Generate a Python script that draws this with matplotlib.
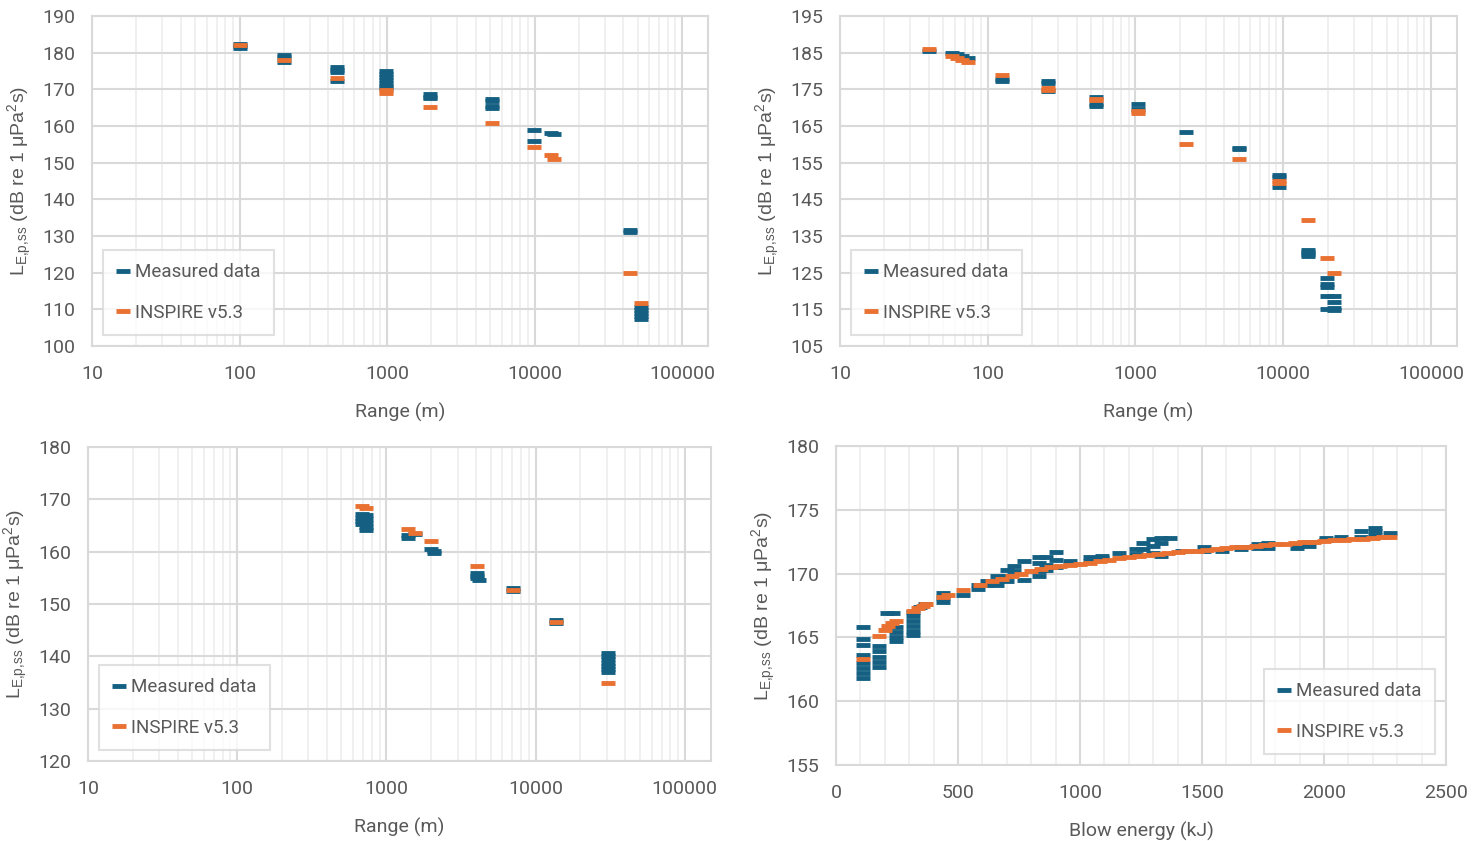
import numpy as np
import matplotlib
matplotlib.use("Agg")
import matplotlib.pyplot as plt
from matplotlib.ticker import LogLocator, FixedLocator, FuncFormatter, MultipleLocator

plt.rcParams['font.family'] = ['Roboto', 'DejaVu Sans']
plt.rcParams['mathtext.default'] = 'regular'

BLUE = '#156082'
ORANGE = '#E97132'
GREY = '#595959'

# --- panel A: level vs range ---
a_meas_r = [100, 100, 100, 200, 200, 200, 460, 460, 460, 460,
            990, 990, 990, 990, 990, 990, 990, 1970, 1970, 1970,
            5150, 5150, 5150, 5150, 9900, 9900, 13000, 13600,
            44700, 44700, 53000, 53000, 53000, 53000, 53000]
a_meas_l = [182.5, 181.8, 181.2, 179.4, 178.9, 177.5, 176.0, 175.4, 174.8, 172.3,
            175.0, 174.2, 173.4, 172.6, 171.8, 171.0, 170.5, 168.7, 168.0, 167.6,
            167.3, 166.7, 165.4, 164.9, 159.0, 155.9, 158.0, 157.8,
            131.7, 131.2, 110.6, 109.8, 109.0, 108.2, 107.5]
a_mod_r = [100, 200, 460, 990, 990, 1970, 5150, 9900, 13000, 13600, 44700, 53000]
a_mod_l = [182.1, 178.1, 173.0, 169.9, 169.1, 165.3, 160.9, 154.4, 152.2, 151.1, 120.0, 111.8]

# --- panel B: level vs range ---
b_meas_r = [40, 57, 62, 67, 73, 124, 124, 257, 257, 257,
            537, 537, 537, 1045, 1045, 2190, 5050, 5050, 9300, 9300, 9300,
            14800, 14800, 14800, 14800, 19800, 19800, 19800, 19800, 19800,
            22000, 22000, 22000, 22000]
b_meas_l = [185.4, 184.9, 184.6, 184.1, 183.6, 177.9, 177.4, 177.2, 176.6, 174.6,
            173.0, 171.0, 170.5, 171.0, 169.6, 163.5, 159.1, 158.7, 151.6, 151.0, 148.3,
            131.3, 130.6, 130.0, 129.6, 123.6, 121.8, 121.0, 118.6, 115.0,
            118.6, 117.0, 115.3, 114.9]
b_mod_r = [40, 57, 62, 67, 73, 124, 257, 257, 537, 537, 1045, 1045,
           2190, 5050, 9300, 9300, 14800, 19800, 22000]
b_mod_l = [186.0, 184.0, 183.6, 183.0, 182.5, 178.8, 175.5, 174.9, 172.5, 172.0, 169.0, 168.5,
           160.0, 155.9, 150.0, 149.4, 139.4, 129.1, 124.9]

# --- panel C: level vs range ---
c_meas_r = [690, 690, 690, 690, 730, 730, 730, 730, 730,
            1400, 1400, 1550, 2000, 2100, 2100,
            4050, 4050, 4050, 4150, 7050, 7050, 13650, 13650,
            30500, 30500, 30500, 30500, 30500, 30500, 30500]
c_meas_l = [167.2, 166.5, 165.8, 165.2, 167.0, 166.3, 165.5, 164.8, 164.1,
            163.2, 162.7, 163.3, 160.6, 160.1, 159.7,
            155.9, 155.4, 154.9, 154.6, 153.0, 152.4, 147.0, 146.4,
            140.6, 140.0, 139.4, 138.8, 138.2, 137.6, 137.0]
c_mod_r = [690, 730, 1400, 1550, 2000, 4050, 7050, 13650, 30500]
c_mod_l = [168.7, 168.4, 164.4, 163.6, 162.1, 157.2, 152.7, 146.6, 134.9]

# --- panel D: level vs blow energy ---
d_meas_e = [110, 110, 110, 110, 110, 110, 110, 110,
            175, 175, 175, 175, 175, 210, 235, 245, 245, 245, 245,
            315, 315, 315, 315, 315, 315, 345, 365, 440, 440, 440, 520,
            580, 580, 620, 620, 660, 660, 660, 700, 700, 700, 730, 730, 770, 770,
            830, 830, 830, 830, 860, 860, 860, 900, 900, 900, 960,
            1040, 1040, 1090, 1090, 1160, 1230, 1230, 1260, 1260,
            1300, 1300, 1300, 1330, 1330, 1330, 1370, 1420, 1510, 1510, 1580,
            1660, 1660, 1730, 1730, 1770, 1770, 1890, 1890, 1940, 1940,
            2010, 2010, 2070, 2070, 2150, 2150, 2210, 2210, 2210, 2270]
d_meas_l = [165.8, 164.9, 164.4, 163.6, 163.0, 162.6, 162.2, 161.8,
            164.3, 163.9, 163.5, 163.1, 162.7, 166.9, 166.9, 165.8, 165.4, 165.0, 164.7,
            167.0, 166.7, 166.3, 165.9, 165.5, 165.2, 167.4, 167.6, 168.5, 168.1, 167.8, 168.3,
            169.1, 168.8, 169.4, 169.1, 169.8, 169.4, 169.1, 170.3, 169.8, 169.4, 170.6, 170.2, 171.0, 169.5,
            171.3, 170.8, 170.2, 169.8, 171.3, 170.7, 170.3, 171.7, 171.1, 170.5, 171.0,
            171.3, 171.0, 171.4, 171.2, 171.6, 171.9, 171.5, 172.4, 171.9,
            172.7, 172.2, 171.6, 172.8, 172.4, 171.4, 172.8, 171.8, 172.1, 171.8, 171.8,
            172.1, 171.9, 172.3, 172.0, 172.4, 172.0, 172.3, 172.0, 172.5, 172.2,
            172.8, 172.6, 172.9, 172.7, 173.3, 172.9, 173.6, 173.3, 173.0, 173.2]
d_mod_e = [110, 175, 200, 215, 230, 245, 315, 335, 355, 370, 440, 460, 520, 590, 640,
           680, 720, 760, 800, 840, 880, 920, 960, 1000, 1040, 1080, 1120, 1160, 1200,
           1240, 1280, 1320, 1360, 1400, 1440, 1480, 1520, 1560, 1600, 1640, 1680, 1720,
           1760, 1800, 1840, 1880, 1920, 1960, 2000, 2040, 2080, 2120, 2160, 2200, 2240, 2270]
d_mod_l = [163.3, 165.1, 165.6, 165.9, 166.1, 166.3, 167.1, 167.3, 167.5, 167.6, 168.2, 168.3,
           168.7, 169.1, 169.4, 169.6, 169.8, 170.0, 170.2, 170.35, 170.5, 170.6, 170.7, 170.75,
           170.85, 171.0, 171.1, 171.2, 171.3, 171.35, 171.45, 171.5, 171.6, 171.7, 171.75,
           171.8, 171.85, 171.9, 172.0, 172.05, 172.1, 172.2, 172.25, 172.3, 172.35, 172.4,
           172.45, 172.5, 172.55, 172.6, 172.65, 172.7, 172.75, 172.8, 172.85, 172.9]

ylabel = r'L$_{E{,}p{,}ss}$ (dB re 1 μPa$^2$s)'


def style_axes(ax, xlabel):
    for s in ax.spines.values():
        s.set_color('#D9D9D9')
        s.set_linewidth(1.5)
    ax.grid(True, which='major', color='#D9D9D9', linewidth=1.5)
    ax.grid(True, which='minor', axis='x', color='#EEEEEE', linewidth=1.2)
    ax.set_axisbelow(True)
    ax.tick_params(which='both', length=0, labelsize=14, labelcolor=GREY)
    ax.tick_params(axis='x', pad=14)
    ax.tick_params(axis='y', pad=12)
    ax.set_xlabel(xlabel, fontsize=14, color=GREY, labelpad=14)
    ax.set_ylabel(ylabel, fontsize=14, color=GREY, family=['Liberation Sans', 'DejaVu Sans'], labelpad=6)


def draw(ax, xm, ym, xo, yo, loc):
    ax.plot(xm, ym, ls='none', marker='_', ms=10, mew=3.5, color=BLUE, label='Measured data')
    ax.plot(xo, yo, ls='none', marker='_', ms=10, mew=3.5, color=ORANGE, label='INSPIRE v5.3')
    leg = ax.legend(loc=loc, fontsize=13.5, frameon=True, fancybox=False, labelspacing=1.2,
                    handlelength=0.7, handletextpad=0.3, borderpad=0.7, borderaxespad=0.6)
    leg.get_frame().set_edgecolor('#D9D9D9')
    leg.get_frame().set_linewidth(1.5)
    for t in leg.get_texts():
        t.set_color(GREY)


def log_range_axis(ax, yticks):
    ax.set_xscale('log')
    ax.set_xlim(10, 1.5e5)
    ax.xaxis.set_major_locator(FixedLocator([10, 100, 1000, 10000, 100000]))
    ax.xaxis.set_minor_locator(LogLocator(base=10, subs=np.arange(2, 10)))
    ax.xaxis.set_major_formatter(FuncFormatter(lambda v, p: '%d' % v))
    ax.xaxis.set_minor_formatter(FuncFormatter(lambda v, p: ''))
    ax.set_ylim(yticks[0], yticks[-1])
    ax.yaxis.set_major_locator(FixedLocator(yticks))
    style_axes(ax, 'Range (m)')


fig = plt.figure(figsize=(14.84, 8.41), dpi=100)
W, H = 1484.0, 841.0

ax1 = fig.add_axes([92 / W, 1 - 346 / H, 616 / W, 330 / H])
log_range_axis(ax1, np.arange(100, 191, 10))
draw(ax1, a_meas_r, a_meas_l, a_mod_r, a_mod_l, 'lower left')

ax2 = fig.add_axes([840 / W, 1 - 346 / H, 617 / W, 330 / H])
log_range_axis(ax2, np.arange(105, 196, 10))
draw(ax2, b_meas_r, b_meas_l, b_mod_r, b_mod_l, 'lower left')

ax3 = fig.add_axes([88 / W, 1 - 761 / H, 623 / W, 314 / H])
log_range_axis(ax3, np.arange(120, 181, 10))
draw(ax3, c_meas_r, c_meas_l, c_mod_r, c_mod_l, 'lower left')

ax4 = fig.add_axes([836 / W, 1 - 765 / H, 610 / W, 319 / H])
ax4.set_xlim(0, 2500)
ax4.set_ylim(155, 180)
ax4.xaxis.set_major_locator(MultipleLocator(500))
ax4.xaxis.set_minor_locator(MultipleLocator(100))
ax4.yaxis.set_major_locator(MultipleLocator(5))
style_axes(ax4, 'Blow energy (kJ)')
draw(ax4, d_meas_e, d_meas_l, d_mod_e, d_mod_l, 'lower right')

fig.savefig('out.png', dpi=100, facecolor='white')
